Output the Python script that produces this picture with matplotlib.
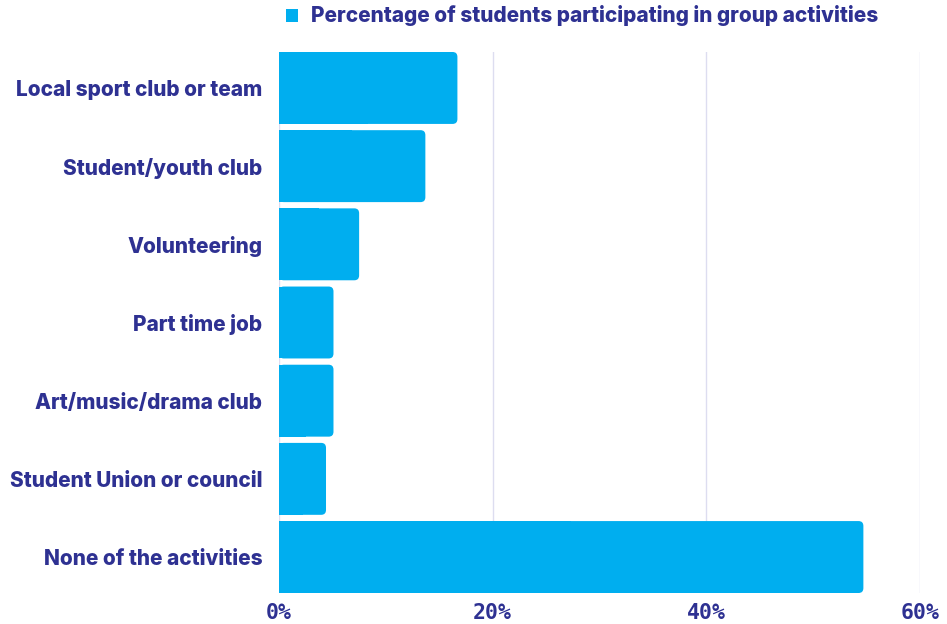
import matplotlib.pyplot as plt
from matplotlib.patches import FancyBboxPatch, Rectangle

categories = ['Local sport club or team', 'Student/youth club', 'Volunteering',
              'Part time job', 'Art/music/drama club', 'Student Union or council',
              'None of the activities']
values = [16.7, 13.7, 7.5, 5.1, 5.1, 4.4, 54.7]
xticks = [0, 20, 40, 60]
xticklabels = ['0%', '20%', '40%', '60%']
series_name = 'Percentage of students participating in group activities'

bar_color = '#00AEEF'
text_color = '#2E3192'
grid_color = '#DDDDF0'

fig = plt.figure(figsize=(9.47, 6.24), dpi=100)
ax = fig.add_axes([279 / 947, 1 - 593 / 624, (920 - 279) / 947, (593 - 52) / 624])

h = 0.92
bars = ax.barh(range(len(categories)), values, height=h, color=bar_color, zorder=3)
ax.set_ylim(len(categories) - 1 + h / 2, -h / 2)
ax.set_xlim(0, 60)

# rounded right ends
r = 0.45
for b in bars:
    x0, y0 = b.get_x(), b.get_y()
    w, hh = b.get_width(), b.get_height()
    b.set_visible(False)
    ax.add_patch(FancyBboxPatch((x0, y0), w, hh,
                                boxstyle=f'round,pad=0,rounding_size={r}',
                                mutation_aspect=0.14, facecolor=bar_color,
                                edgecolor='none', zorder=3))
    ax.add_patch(Rectangle((x0, y0), w / 2, hh, facecolor=bar_color,
                           edgecolor='none', zorder=3))

ax.set_yticks(range(len(categories)))
ax.set_yticklabels(categories, fontsize=15, fontweight='heavy', color=text_color,
                   family='Inter')
ax.set_xticks(xticks)
ax.set_xticklabels(xticklabels, fontsize=15.5, fontweight='bold', color=text_color,
                   family='DejaVu Sans Mono')
ax.tick_params(axis='y', length=0, pad=12)
ax.tick_params(axis='x', length=0, pad=7)
ax.grid(axis='x', color=grid_color, linewidth=1, zorder=0)
for s in ax.spines.values():
    s.set_visible(False)

handle = Rectangle((0, 0), 1, 1, facecolor=bar_color)
leg = fig.legend([handle], [series_name], loc='center', bbox_to_anchor=(582 / 947, 1 - 16 / 624),
                 frameon=False, handlelength=0.6, handleheight=0.6, handletextpad=0.6,
                 prop={'family': 'Inter', 'weight': 'heavy', 'size': 15})
for t in leg.get_texts():
    t.set_color(text_color)

fig.savefig('out.png', dpi=100)
